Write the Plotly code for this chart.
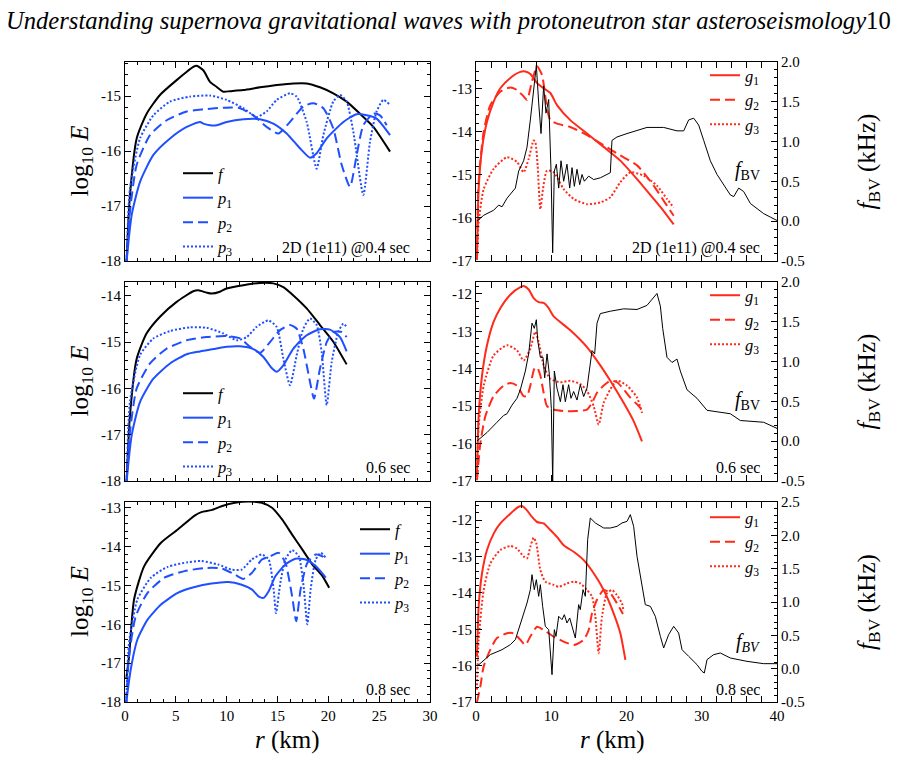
import plotly.graph_objects as go

# ---------------- data (r in km, log10 E, f_BV in kHz) ----------------
# Row 1 (2D 1e11 @0.4 s) - left panel
L1_F_X = [0.16, 0.49, 1.15, 2.13, 3.44, 5.08, 6.72, 7.05, 7.7, 8.36, 9.0, 9.67, 10.33, 11.64, 13.28, 14.92, 16.56, 17.87, 19.18, 20.49, 21.8, 23.11, 24.43, 26.07]
L1_F_Y = [-18.0, -16.8, -15.77, -15.32, -14.98, -14.71, -14.47, -14.45, -14.53, -14.74, -14.83, -14.92, -14.91, -14.89, -14.84, -14.8, -14.77, -14.77, -14.84, -14.95, -15.1, -15.32, -15.56, -16.01]
L1_P1_X = [0.16, 0.66, 1.48, 2.79, 4.43, 6.07, 7.38, 7.7, 8.36, 9.02, 10.0, 11.64, 13.28, 14.59, 15.9, 17.21, 18.2, 18.85, 19.84, 21.48, 22.79, 23.77, 24.75, 26.07]
L1_P1_Y = [-18.0, -17.16, -16.56, -16.07, -15.77, -15.56, -15.47, -15.5, -15.53, -15.53, -15.47, -15.42, -15.42, -15.5, -15.68, -15.95, -16.12, -16.04, -15.77, -15.47, -15.33, -15.35, -15.41, -15.71]
L1_P2_X = [0.16, 0.49, 1.15, 2.46, 4.1, 6.07, 7.7, 10.0, 11.31, 12.62, 13.93, 15.08, 16.23, 17.54, 18.52, 19.51, 20.49, 21.31, 22.13, 22.79, 23.44, 24.43, 25.08, 25.74]
L1_P2_Y = [-18.0, -17.1, -16.25, -15.71, -15.44, -15.28, -15.24, -15.21, -15.22, -15.35, -15.56, -15.68, -15.47, -15.19, -15.13, -15.22, -15.59, -16.25, -16.65, -16.07, -15.53, -15.32, -15.35, -15.53]
L1_P3_X = [0.16, 0.49, 1.48, 2.79, 4.43, 6.39, 8.36, 10.0, 11.64, 12.95, 13.93, 14.92, 16.23, 16.89, 17.87, 18.85, 19.51, 20.49, 21.15, 21.8, 22.46, 23.44, 24.1, 24.75, 25.41, 26.07]
L1_P3_Y = [-18.0, -16.68, -15.77, -15.35, -15.1, -15.01, -14.99, -15.07, -15.22, -15.38, -15.28, -15.07, -14.95, -15.01, -15.47, -16.32, -15.71, -15.1, -14.98, -15.1, -15.65, -16.8, -15.83, -15.28, -15.07, -15.16]

# Row 2 (0.6 s) - left panel
L2_F_X = [0.16, 0.49, 1.15, 2.13, 3.44, 5.08, 6.72, 7.21, 8.03, 8.52, 9.34, 10.0, 11.64, 13.28, 14.59, 15.57, 16.56, 17.87, 19.18, 20.49, 21.8]
L2_F_Y = [-18.0, -16.58, -15.36, -14.81, -14.45, -14.13, -13.9, -13.88, -13.93, -13.95, -13.91, -13.84, -13.77, -13.72, -13.73, -13.81, -13.99, -14.27, -14.63, -14.99, -15.48]
L2_P1_X = [0.16, 0.66, 1.48, 2.79, 4.43, 6.07, 7.38, 8.69, 10.0, 11.31, 12.62, 13.61, 14.43, 14.92, 15.57, 16.56, 17.87, 19.18, 20.16, 21.15, 21.8]
L2_P1_Y = [-18.0, -17.01, -16.29, -15.79, -15.46, -15.26, -15.2, -15.15, -15.1, -15.09, -15.15, -15.32, -15.56, -15.64, -15.5, -15.14, -14.85, -14.72, -14.73, -14.89, -15.2]
L2_P2_X = [0.16, 0.49, 1.15, 2.46, 4.1, 6.07, 8.03, 10.0, 11.31, 12.3, 13.28, 14.26, 15.25, 16.23, 16.89, 17.54, 18.2, 18.59, 19.18, 19.84, 20.49, 21.31, 21.8]
L2_P2_Y = [-18.0, -16.94, -16.0, -15.46, -15.14, -14.96, -14.89, -14.87, -14.92, -15.1, -15.23, -15.0, -14.74, -14.63, -14.71, -15.14, -15.86, -16.22, -15.57, -15.0, -14.78, -14.78, -14.89]
L2_P3_X = [0.16, 0.49, 1.48, 2.79, 4.43, 6.39, 8.03, 9.67, 10.98, 11.97, 12.95, 14.1, 14.92, 15.57, 16.23, 16.89, 17.54, 18.2, 18.85, 19.34, 19.84, 20.33, 20.98, 21.48, 21.8]
L2_P3_Y = [-18.0, -16.29, -15.28, -14.92, -14.76, -14.68, -14.69, -14.81, -14.96, -14.89, -14.67, -14.53, -14.67, -15.35, -15.93, -15.28, -14.71, -14.49, -14.63, -15.21, -16.36, -15.43, -14.78, -14.6, -14.67]

# Row 3 (0.8 s) - left panel
L3_F_X = [0.13, 0.4, 0.89, 1.89, 3.54, 5.19, 6.85, 7.51, 8.5, 9.49, 10.82, 12.14, 13.46, 14.46, 15.45, 16.44, 17.43, 18.43, 19.42, 20.08]
L3_F_Y = [-17.4, -16.82, -15.36, -14.5, -13.9, -13.56, -13.2, -13.11, -13.06, -12.96, -12.87, -12.84, -12.87, -13.0, -13.3, -13.69, -14.07, -14.46, -14.76, -15.06]
L3_P1_X = [0.13, 0.56, 1.22, 2.22, 3.54, 5.19, 6.85, 8.5, 10.16, 11.48, 12.47, 13.13, 13.63, 14.13, 14.79, 15.78, 16.77, 17.76, 18.76, 19.75]
L3_P1_Y = [-18.0, -17.17, -16.39, -15.88, -15.49, -15.19, -15.04, -14.95, -14.91, -14.98, -15.1, -15.28, -15.32, -15.15, -14.76, -14.46, -14.31, -14.33, -14.5, -14.8]
L3_P2_X = [0.13, 0.4, 1.06, 2.22, 3.87, 5.86, 7.84, 9.49, 10.82, 11.64, 12.47, 13.46, 14.29, 15.12, 15.78, 16.44, 16.84, 17.27, 17.93, 18.76, 19.42, 19.75]
L3_P2_Y = [-18.0, -16.82, -15.79, -15.19, -14.8, -14.63, -14.55, -14.56, -14.72, -14.83, -14.68, -14.33, -14.25, -14.16, -14.42, -15.28, -15.92, -15.1, -14.42, -14.2, -14.25, -14.37]
L3_P3_X = [0.13, 0.4, 1.22, 2.55, 4.2, 6.19, 7.51, 9.16, 10.49, 11.48, 12.47, 13.46, 14.13, 14.62, 14.85, 15.28, 15.78, 16.44, 17.1, 17.6, 17.93, 18.26, 18.76, 19.25, 19.75]
L3_P3_Y = [-18.0, -16.48, -15.36, -14.8, -14.52, -14.4, -14.37, -14.46, -14.59, -14.59, -14.33, -14.2, -14.33, -15.1, -15.71, -14.93, -14.33, -14.09, -14.25, -15.1, -16.0, -15.1, -14.33, -14.16, -14.29]

# Row 1 - right panel
R1_G1_X = [0.13, 0.35, 0.8, 1.46, 2.35, 3.23, 4.56, 5.89, 6.56, 7.22, 8.11, 8.99, 9.88, 10.76, 12.53, 14.75, 16.96, 19.18, 21.4, 23.61, 24.94, 26.27]
R1_G1_Y = [-16.89, -15.33, -14.39, -13.77, -13.3, -12.99, -12.75, -12.61, -12.6, -12.66, -12.87, -12.99, -13.1, -13.38, -13.73, -14.04, -14.35, -14.67, -15.1, -15.56, -15.84, -16.15]
R1_G2_X = [0.13, 0.35, 1.02, 1.9, 3.23, 4.56, 5.45, 6.33, 6.78, 7.44, 8.11, 8.77, 9.44, 9.88, 10.76, 12.53, 14.75, 16.96, 19.18, 21.4, 23.61, 24.94, 26.27]
R1_G2_Y = [-16.97, -15.17, -14.0, -13.38, -13.07, -12.97, -13.03, -13.18, -13.26, -12.83, -12.48, -12.68, -13.46, -13.73, -13.81, -13.89, -14.08, -14.31, -14.55, -14.78, -15.25, -15.6, -15.95]
R1_G3_X = [0.13, 0.35, 1.02, 2.35, 4.12, 5.45, 6.33, 7.0, 7.66, 7.88, 8.19, 8.55, 8.9, 9.44, 10.32, 11.65, 12.98, 14.75, 16.52, 17.85, 19.18, 20.51, 22.28, 24.05, 25.38, 26.27]
R1_G3_Y = [-16.97, -16.11, -15.33, -14.86, -14.59, -14.7, -14.94, -14.63, -14.2, -14.24, -14.78, -15.8, -15.33, -14.9, -14.94, -15.33, -15.56, -15.68, -15.64, -15.52, -15.17, -14.94, -15.02, -15.25, -15.56, -15.76]
R1_BV_X = [0.13, 1.02, 2.35, 3.01, 3.46, 4.12, 5.23, 5.67, 6.33, 6.78, 7.22, 7.66, 8.02, 8.33, 8.64, 8.99, 9.3, 9.66, 9.97, 10.19, 10.41, 10.68, 10.99, 11.3, 11.65, 12.09, 12.45, 12.76, 13.07, 13.42, 13.78, 14.09, 14.4, 14.97, 15.64, 16.52, 17.41, 17.85, 18.07, 18.74, 20.07, 21.4, 22.72, 24.94, 26.71, 27.6, 28.26, 28.93, 29.59, 30.26, 31.14, 32.03, 32.92, 33.8, 34.25, 34.91, 35.57, 36.46, 37.34, 38.23, 39.11, 40.0]
R1_BV_Y = [0.0, 0.074, 0.138, 0.202, 0.181, 0.288, 0.416, 0.63, 0.759, 0.93, 1.272, 1.615, 1.957, 1.486, 1.101, 1.7, 1.358, 1.529, 0.63, -0.397, 0.63, 0.716, 0.416, 0.759, 0.502, 0.716, 0.416, 0.673, 0.438, 0.652, 0.459, 0.587, 0.502, 0.566, 0.523, 0.545, 0.587, 0.609, 1.015, 1.058, 1.101, 1.144, 1.178, 1.178, 1.135, 1.135, 1.272, 1.294, 1.208, 1.015, 0.759, 0.587, 0.459, 0.33, 0.309, 0.416, 0.373, 0.223, 0.159, 0.095, 0.052, 0.009]

# Row 2 - right panel
R2_G1_X = [0.13, 0.35, 0.8, 1.46, 2.35, 3.23, 4.56, 5.89, 6.33, 7.0, 7.66, 8.33, 8.99, 9.66, 10.32, 12.54, 14.75, 16.52, 17.85, 19.62, 20.95, 22.06]
R2_G1_Y = [-16.89, -15.27, -14.18, -13.37, -12.74, -12.38, -12.02, -11.82, -11.79, -11.88, -12.11, -12.22, -12.24, -12.38, -12.6, -12.97, -13.42, -13.91, -14.32, -14.91, -15.4, -15.94]
R2_G2_X = [0.13, 0.58, 1.24, 2.35, 3.68, 4.56, 5.45, 6.33, 6.78, 7.22, 7.75, 8.11, 8.55, 8.99, 9.44, 10.32, 11.65, 13.42, 14.75, 15.42, 16.08, 16.97, 17.85, 18.74, 19.62, 20.51, 21.4, 22.06]
R2_G2_Y = [-16.98, -15.99, -15.27, -14.73, -14.45, -14.38, -14.45, -14.73, -14.73, -14.45, -14.0, -13.96, -14.18, -14.64, -15.0, -15.09, -15.13, -15.13, -15.09, -14.91, -14.64, -14.45, -14.32, -14.36, -14.55, -14.77, -14.95, -15.09]
R2_G3_X = [0.13, 0.35, 1.02, 2.35, 4.12, 5.45, 6.33, 7.22, 7.88, 8.33, 8.99, 9.88, 11.21, 12.54, 13.86, 14.75, 15.64, 16.3, 16.97, 17.85, 18.74, 20.07, 21.4, 22.06]
R2_G3_Y = [-16.89, -15.54, -14.45, -13.64, -13.37, -13.51, -13.78, -13.46, -13.01, -13.28, -13.91, -14.27, -14.36, -14.32, -14.41, -14.59, -15.0, -15.49, -14.91, -14.55, -14.32, -14.45, -14.77, -15.18]
R2_BV_X = [0.13, 1.46, 2.79, 3.68, 4.12, 4.78, 5.45, 5.89, 6.56, 7.0, 7.44, 7.75, 8.02, 8.2, 8.55, 8.9, 9.13, 9.44, 9.75, 10.01, 10.19, 10.41, 10.76, 11.21, 11.56, 11.87, 12.31, 12.62, 12.98, 13.42, 13.86, 14.31, 14.75, 15.11, 15.42, 15.77, 16.08, 16.52, 17.85, 19.62, 21.4, 22.72, 23.39, 24.05, 24.5, 24.81, 25.38, 26.05, 26.71, 27.15, 28.04, 29.37, 30.7, 32.03, 33.8, 35.13, 36.9, 38.23, 40.0]
R2_BV_Y = [0.002, 0.109, 0.238, 0.324, 0.345, 0.453, 0.539, 0.646, 0.882, 1.097, 1.483, 1.418, 1.526, 1.268, 1.054, 1.054, 0.796, 1.097, 0.839, 0.41, -0.5, 0.882, 0.667, 0.496, 0.71, 0.496, 0.71, 0.539, 0.624, 0.517, 0.71, 0.56, 0.667, 0.925, 1.139, 1.097, 1.483, 1.603, 1.633, 1.663, 1.655, 1.706, 1.783, 1.856, 1.697, 1.418, 1.054, 0.989, 1.032, 0.882, 0.646, 0.539, 0.388, 0.367, 0.345, 0.26, 0.247, 0.238, 0.161]

# Row 3 - right panel
R3_G1_X = [0.13, 0.35, 0.8, 1.46, 2.35, 3.23, 4.56, 5.67, 6.11, 6.78, 7.44, 8.11, 8.99, 9.88, 10.76, 11.65, 12.98, 14.31, 15.64, 16.97, 18.29, 19.18, 19.85]
R3_G1_Y = [-15.75, -14.38, -13.46, -12.82, -12.37, -12.09, -11.82, -11.63, -11.61, -11.73, -11.91, -12.05, -12.09, -12.27, -12.46, -12.69, -12.87, -13.1, -13.46, -13.92, -14.56, -15.11, -15.84]
R3_G2_X = [0.13, 0.58, 1.02, 1.9, 2.79, 4.12, 5.01, 5.89, 6.56, 7.22, 8.11, 8.99, 10.32, 11.65, 12.98, 14.31, 14.97, 15.42, 16.08, 16.97, 17.85, 18.74, 19.53]
R3_G2_Y = [-17.0, -16.57, -16.02, -15.56, -15.24, -15.11, -15.11, -15.29, -15.43, -15.2, -14.93, -15.02, -15.2, -15.34, -15.43, -15.29, -15.02, -14.56, -14.19, -13.92, -14.01, -14.29, -14.58]
R3_G3_X = [0.13, 0.35, 1.02, 1.9, 3.23, 4.56, 5.45, 6.33, 6.78, 7.22, 7.66, 8.02, 8.55, 9.21, 10.32, 10.99, 12.09, 12.98, 13.86, 14.75, 15.42, 15.86, 16.3, 16.74, 17.41, 18.07, 18.74, 19.4, 19.62]
R3_G3_Y = [-16.66, -15.29, -13.92, -13.19, -12.82, -12.71, -12.78, -13.0, -13.05, -12.73, -12.48, -12.64, -13.37, -13.69, -13.78, -13.83, -13.74, -13.69, -13.74, -13.92, -14.1, -14.65, -15.66, -14.65, -14.01, -13.92, -14.06, -14.29, -14.51]
R3_BV_X = [0.13, 1.9, 3.46, 4.56, 5.23, 5.67, 6.11, 6.78, 7.22, 7.44, 7.75, 8.02, 8.33, 8.55, 8.86, 9.21, 9.66, 10.1, 10.41, 10.63, 10.99, 11.43, 11.74, 12.09, 12.45, 12.76, 13.2, 13.64, 13.86, 14.22, 14.53, 14.84, 15.19, 15.86, 16.97, 17.85, 18.74, 19.4, 20.07, 20.51, 20.95, 21.4, 21.84, 22.5, 23.17, 23.83, 24.5, 24.94, 25.6, 26.27, 26.93, 27.38, 28.26, 29.37, 30.03, 30.34, 30.7, 31.58, 32.47, 33.8, 36.01, 38.23, 40.0]
R3_BV_Y = [0.035, 0.21, 0.285, 0.36, 0.435, 0.585, 0.76, 0.985, 1.185, 1.41, 1.185, 1.335, 1.085, 1.26, 0.935, 0.635, 0.585, -0.09, 0.585, 0.485, 0.785, 0.735, 0.81, 0.685, 0.76, 0.635, 0.46, 0.96, 0.885, 1.185, 1.085, 1.935, 2.26, 2.185, 2.11, 2.11, 2.135, 2.185, 2.21, 2.31, 2.135, 1.685, 1.385, 0.96, 0.935, 0.785, 0.485, 0.31, 0.51, 0.635, 0.535, 0.285, 0.185, 0.06, -0.04, -0.065, 0.135, 0.21, 0.235, 0.16, 0.11, 0.075, 0.075]

# tick labels
LEFT_Y_TICKS = [[-18, -17, -16, -15], [-18, -17, -16, -15, -14], [-18, -17, -16, -15, -14, -13]]
RIGHT_Y_TICKS = [[-17, -16, -15, -14, -13], [-17, -16, -15, -14, -13, -12], [-17, -16, -15, -14, -13, -12]]
BV_TICKS = [[-0.5, 0.0, 0.5, 1.0, 1.5, 2.0], [-0.5, 0.0, 0.5, 1.0, 1.5, 2.0], [-0.5, 0.0, 0.5, 1.0, 1.5, 2.0, 2.5]]
LEFT_X_TICKS = [0, 5, 10, 15, 20, 25, 30]
RIGHT_X_TICKS = [0, 10, 20, 30, 40]
PANEL_TAGS = ["2D (1e11) @0.4 sec", "0.6 sec", "0.8 sec"]

# ---------------- styling / layout ----------------
W, H = 897, 763
FONT = "Liberation Serif, Times New Roman, DejaVu Serif, serif"
BLUE = "#1F4FFF"
RED = "#FF2A1A"
DASH = "10px,5px"
DOT = "2px,2px"

def fx(p):
    return p / W

def fy(p):
    return 1 - p / H

LEFT_DOM = [fx(125), fx(430)]
RIGHT_DOM = [fx(476), fx(777)]
ROW_PX = [(62, 261), (282, 481), (502, 702)]
LEFT_YR = [[-18, -14.38], [-18, -13.7], [-18, -12.85]]
RIGHT_YR = [[-17, -12.38], [-17, -11.68], [-17, -11.5]]
BV_YR = [[-0.5, 2.0], [-0.5, 2.0], [-0.5, 2.5]]

fig = go.Figure()

left_sets = [
    [(L1_F_X, L1_F_Y), (L1_P1_X, L1_P1_Y), (L1_P2_X, L1_P2_Y), (L1_P3_X, L1_P3_Y)],
    [(L2_F_X, L2_F_Y), (L2_P1_X, L2_P1_Y), (L2_P2_X, L2_P2_Y), (L2_P3_X, L2_P3_Y)],
    [(L3_F_X, L3_F_Y), (L3_P1_X, L3_P1_Y), (L3_P2_X, L3_P2_Y), (L3_P3_X, L3_P3_Y)],
]
right_sets = [
    [(R1_G1_X, R1_G1_Y), (R1_G2_X, R1_G2_Y), (R1_G3_X, R1_G3_Y), (R1_BV_X, R1_BV_Y)],
    [(R2_G1_X, R2_G1_Y), (R2_G2_X, R2_G2_Y), (R2_G3_X, R2_G3_Y), (R2_BV_X, R2_BV_Y)],
    [(R3_G1_X, R3_G1_Y), (R3_G2_X, R3_G2_Y), (R3_G3_X, R3_G3_Y), (R3_BV_X, R3_BV_Y)],
]
left_names = ["<i>f</i>", "<i>p</i><sub>1</sub>", "<i>p</i><sub>2</sub>", "<i>p</i><sub>3</sub>"]
left_styles = [("black", "solid"), (BLUE, "solid"), (BLUE, DASH), (BLUE, DOT)]
right_names = ["<i>g</i><sub>1</sub>", "<i>g</i><sub>2</sub>", "<i>g</i><sub>3</sub>"]
right_styles = [(RED, "solid"), (RED, DASH), (RED, DOT)]

def ax_id(n):
    return "" if n == 1 else str(n)

for r in range(3):
    li = 2 * r + 1
    ri = 2 * r + 2
    bi = 7 + r
    lleg = "legend" + ax_id(li)
    rleg = "legend" + ax_id(ri)
    for (xs, ys), name, (col, dash) in zip(left_sets[r], left_names, left_styles):
        fig.add_trace(go.Scatter(x=xs, y=ys, mode="lines", name=name,
                                 line=dict(color=col, dash=dash, width=2, shape="spline", smoothing=0.6),
                                 xaxis="x" + ax_id(li), yaxis="y" + ax_id(li), legend=lleg))
    for (xs, ys), name, (col, dash) in zip(right_sets[r][:3], right_names, right_styles):
        fig.add_trace(go.Scatter(x=xs, y=ys, mode="lines", name=name,
                                 line=dict(color=col, dash=dash, width=2, shape="spline", smoothing=0.6),
                                 xaxis="x" + ax_id(ri), yaxis="y" + ax_id(ri), legend=rleg))
    bx, by = right_sets[r][3]
    fig.add_trace(go.Scatter(x=bx, y=by, mode="lines", showlegend=False,
                             line=dict(color="black", width=1),
                             xaxis="x" + ax_id(ri), yaxis="y" + str(bi)))

tickfont = dict(family=FONT, size=15, color="black")
common = dict(showline=True, linecolor="black", linewidth=1, ticks="inside", ticklen=6,
              tickwidth=1, tickcolor="black", showgrid=False, zeroline=False, tickfont=tickfont,
              automargin=False)

layout = dict(width=W, height=H, margin=dict(l=0, r=0, t=0, b=0, autoexpand=False),
              paper_bgcolor="white", plot_bgcolor="white", showlegend=True,
              font=dict(family=FONT, color="black"))

for r in range(3):
    top, bot = ROW_PX[r]
    ydom = [fy(bot), fy(top)]
    li = 2 * r + 1
    ri = 2 * r + 2
    bi = 7 + r
    last = (r == 2)
    layout["xaxis" + ax_id(li)] = dict(common, domain=LEFT_DOM, anchor="y" + ax_id(li), range=[0, 30],
                                       mirror="allticks", tickvals=LEFT_X_TICKS,
                                       ticktext=[str(v) for v in LEFT_X_TICKS], showticklabels=last,
                                       minor=dict(ticks="inside", ticklen=3, tickcolor="black", dtick=1.25, tick0=0))
    layout["xaxis" + ax_id(ri)] = dict(common, domain=RIGHT_DOM, anchor="y" + ax_id(ri), range=[0, 40],
                                       mirror="allticks", tickvals=RIGHT_X_TICKS,
                                       ticktext=[str(v) for v in RIGHT_X_TICKS], showticklabels=last,
                                       minor=dict(ticks="inside", ticklen=3, tickcolor="black", dtick=2, tick0=0))
    layout["yaxis" + ax_id(li)] = dict(common, domain=ydom, anchor="x" + ax_id(li), range=LEFT_YR[r],
                                       mirror="allticks", tickvals=LEFT_Y_TICKS[r],
                                       ticktext=[str(v) for v in LEFT_Y_TICKS[r]],
                                       minor=dict(ticks="inside", ticklen=3, tickcolor="black", dtick=0.2, tick0=0))
    layout["yaxis" + ax_id(ri)] = dict(common, domain=ydom, anchor="x" + ax_id(ri), range=RIGHT_YR[r],
                                       mirror=True, tickvals=RIGHT_Y_TICKS[r],
                                       ticktext=[str(v) for v in RIGHT_Y_TICKS[r]],
                                       minor=dict(ticks="inside", ticklen=3, tickcolor="black", dtick=0.2, tick0=0))
    layout["yaxis" + str(bi)] = dict(common, overlaying="y" + ax_id(ri), anchor="x" + ax_id(ri), side="right",
                                     range=BV_YR[r], tickvals=BV_TICKS[r],
                                     ticktext=[("%.1f" % v) for v in BV_TICKS[r]],
                                     minor=dict(ticks="inside", ticklen=3, tickcolor="black", dtick=0.1, tick0=0))

legfont = dict(family=FONT, size=16.5, color="black")
leg_pos = {1: (178, 156), 3: (178, 376), 5: (355, 512), 2: (705, 58), 4: (705, 278), 6: (705, 500)}
for n, (lx, ly) in leg_pos.items():
    layout["legend" + ax_id(n)] = dict(x=fx(lx), y=fy(ly), xanchor="left", yanchor="top",
                                       bgcolor="rgba(0,0,0,0)", borderwidth=0, font=legfont,
                                       itemwidth=30, tracegroupgap=0)

ann = []
ann.append(dict(text="<i>Understanding supernova gravitational waves with protoneutron star asteroseismology</i>10",
                x=fx(4), y=fy(20), xref="paper", yref="paper", xanchor="left", yanchor="middle",
                showarrow=False, font=dict(family=FONT, size=24.6, color="black")))
for r in range(3):
    top, bot = ROW_PX[r]
    cy = (top + bot) / 2
    ann.append(dict(text="log<sub>10</sub> <i>E</i>", x=fx(81), y=fy(cy), xref="paper", yref="paper",
                    textangle=-90, showarrow=False, xanchor="center", yanchor="middle",
                    font=dict(family=FONT, size=25, color="black")))
    ann.append(dict(text="<i>f</i><sub>BV</sub> (kHz)", x=fx(868), y=fy(cy), xref="paper", yref="paper",
                    textangle=-90, showarrow=False, xanchor="center", yanchor="middle",
                    font=dict(family=FONT, size=25, color="black")))
    for xr in (412, 762):
        ann.append(dict(text=PANEL_TAGS[r], x=fx(xr), y=fy(bot - 13), xref="paper", yref="paper",
                        xanchor="right", yanchor="middle", showarrow=False,
                        font=dict(family=FONT, size=16, color="black")))
bv_lab = ["<i>f</i><sub>BV</sub>", "<i>f</i><sub>BV</sub>", "<i>f<sub>BV</sub></i>"]
bv_y = [170, 400, 642]
for r in range(3):
    ann.append(dict(text=bv_lab[r], x=fx(762), y=fy(bv_y[r]), xref="paper", yref="paper",
                    xanchor="right", yanchor="middle", showarrow=False,
                    font=dict(family=FONT, size=20, color="black")))
for cx in ((125 + 430) / 2 + 10, (476 + 777) / 2 - 14):
    ann.append(dict(text="<i>r</i> (km)", x=fx(cx), y=fy(740), xref="paper", yref="paper",
                    xanchor="center", yanchor="middle", showarrow=False,
                    font=dict(family=FONT, size=25, color="black")))
layout["annotations"] = ann

fig.update_layout(**layout)
fig.write_html("out.html")
